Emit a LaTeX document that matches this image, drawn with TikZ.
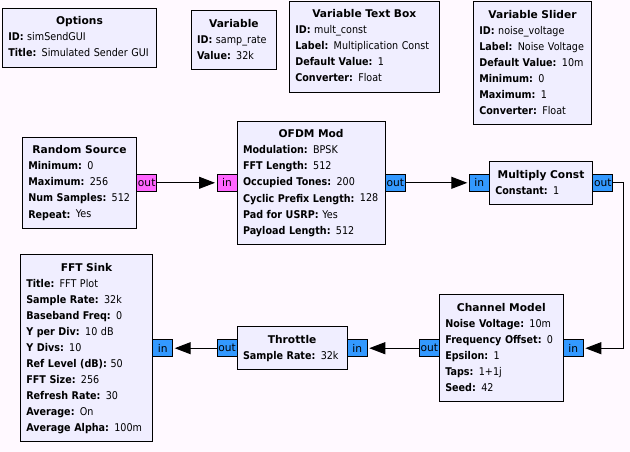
\documentclass[tikz,border=0pt]{standalone}
\usepackage{fontspec}
\setmainfont{DejaVu Sans}
\newfontfamily\paramfont[FakeStretch=0.9]{DejaVu Sans}
\usepackage{tikz}
\usetikzlibrary{arrows.meta, positioning}
\usepackage{xcolor}
\definecolor{canvas}{HTML}{FFF9FF}
\definecolor{blockbg}{HTML}{F0EEFF}
\definecolor{bytecol}{HTML}{FF66FF}
\definecolor{cpxcol}{HTML}{3399FF}
\newcommand{\blocktitle}[1]{{\centering\strut\rmfamily\bfseries #1\par}}

\begin{document}
\begin{tikzpicture}[
    x=0.75pt, y=-0.75pt,
    font=\fontsize{8pt}{12pt}\selectfont,
    block/.style={rectangle, draw=black, line width=0.75pt, fill=blockbg, anchor=north west, align=left, inner xsep=4.5pt, inner ysep=4.125pt, outer sep=0pt, font=\paramfont\fontsize{8pt}{12pt}\selectfont},
    port/.style={rectangle, draw=black, line width=0.75pt, minimum width=15pt, minimum height=12.75pt, inner sep=0pt, outer sep=0pt},
    byte/.style={port, fill=bytecol},
    cpx/.style={port, fill=cpxcol},
    wire/.style={draw, line width=0.75pt, -{Triangle[length=12pt, width=9pt]}, shorten >=1.5pt}
]
\fill[canvas] (0,0) rectangle (630,452);

% Variables
\node[block, text width=106.8pt] (opts) at (2.3,8.3) {\blocktitle{Options}
    \textbf{ID:} simSendGUI\\
    \textbf{Title:} Simulated Sender GUI\strut};
\node[block, text width=55.3pt] (samprate) at (191,11) {\blocktitle{Variable}
    \textbf{ID:} samp\_rate\\
    \textbf{Value:} 32k\strut};
\node[block, text width=103.5pt] (multconst) at (289.3,1.3) {\blocktitle{Variable Text Box}
    \textbf{ID:} mult\_const\\
    \textbf{Label:} Multiplication Const\\
    \textbf{Default Value:} 1\\
    \textbf{Converter:} Float\strut};
\node[block, text width=79.8pt] (noisevolt) at (473.3,1.7) {\blocktitle{Variable Slider}
    \textbf{ID:} noise\_voltage\\
    \textbf{Label:} Noise Voltage\\
    \textbf{Default Value:} 10m\\
    \textbf{Minimum:} 0\\
    \textbf{Maximum:} 1\\
    \textbf{Converter:} Float\strut};

% Blocks
\node[block, text width=76.8pt] (src) at (22.3,137.3) {\blocktitle{Random Source}
    \textbf{Minimum:} 0\\
    \textbf{Maximum:} 256\\
    \textbf{Num Samples:} 512\\
    \textbf{Repeat:} Yes\strut};
\node[block, text width=102.2pt] (ofdm) at (237,121.3) {\blocktitle{OFDM Mod}
    \textbf{Modulation:} BPSK\\
    \textbf{FFT Length:} 512\\
    \textbf{Occupied Tones:} 200\\
    \textbf{Cyclic Prefix Length:} 128\\
    \textbf{Pad for USRP:} Yes\\
    \textbf{Payload Length:} 512\strut};
\node[block, text width=68.6pt] (mult) at (489.3,161.3) {\blocktitle{Multiply Const}
    \textbf{Constant:} 1\strut};
\node[block, text width=84pt] (chan) at (439.3,294.7) {\blocktitle{Channel Model}
    \textbf{Noise Voltage:} 10m\\
    \textbf{Frequency Offset:} 0\\
    \textbf{Epsilon:} 1\\
    \textbf{Taps:} 1+1j\\
    \textbf{Seed:} 42\strut};
\node[block, text width=73.7pt] (thr) at (237,326.7) {\blocktitle{Throttle}
    \textbf{Sample Rate:} 32k\strut};
\node[block, text width=90.3pt] (fft) at (20.3,254.7) {\blocktitle{FFT Sink}
    \textbf{Title:} FFT Plot\\
    \textbf{Sample Rate:} 32k\\
    \textbf{Baseband Freq:} 0\\
    \textbf{Y per Div:} 10 dB\\
    \textbf{Y Divs:} 10\\
    \textbf{Ref Level (dB):} 50\\
    \textbf{FFT Size:} 256\\
    \textbf{Refresh Rate:} 30\\
    \textbf{Average:} On\\
    \textbf{Average Alpha:} 100m\strut};

% Ports
\node[byte, anchor=west] (src-out) at (src.east) {out};
\node[byte, anchor=east] (ofdm-in) at (ofdm.west) {in};
\node[cpx, anchor=west] (ofdm-out) at (ofdm.east) {out};
\node[cpx, anchor=east] (mult-in) at (mult.west) {in};
\node[cpx, anchor=west] (mult-out) at (mult.east) {out};
\node[cpx, anchor=west] (chan-in) at (chan.east) {in};
\node[cpx, anchor=east] (chan-out) at (chan.west) {out};
\node[cpx, anchor=west] (thr-in) at (thr.east) {in};
\node[cpx, anchor=east] (thr-out) at (thr.west) {out};
\node[cpx, anchor=west] (fft-in) at (fft.east) {in};

% Edges
\draw[wire] (src-out) -- (ofdm-in);
\draw[wire] (ofdm-out) -- (mult-in);
\draw[wire] (mult-out.east) -- ++(11,0) |- (chan-in.east);
\draw[wire] (chan-out) -- (thr-in);
\draw[wire] (thr-out) -- (fft-in);

\end{tikzpicture}
\end{document}
